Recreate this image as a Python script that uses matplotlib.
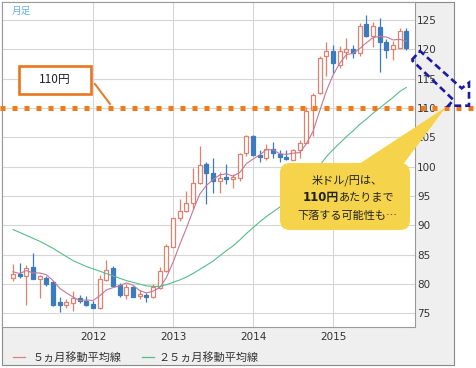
import matplotlib
matplotlib.use('Agg')
import matplotlib.pyplot as plt
import matplotlib.transforms as mtransforms
from matplotlib.patches import Rectangle, FancyBboxPatch, Polygon
import numpy as np

# ---------------- data (USD/JPY monthly, Jan 2011 - Dec 2015) ----------------
months = [f"{y}-{m:02d}" for y in range(2011, 2016) for m in range(1, 13)]

opens = [81.0, 81.8, 81.4, 82.9, 80.8, 81.0, 80.3, 76.9, 76.4, 76.7, 77.6, 77.1,
         76.6, 75.9, 80.7, 82.8, 79.8, 78.1, 79.5, 78.0, 78.2, 77.8, 79.4, 82.3,
         86.4, 91.2, 92.4, 93.9, 97.2, 100.4, 99.0, 97.6, 98.3, 97.9, 98.1, 102.3,
         105.2, 102.0, 101.4, 103.1, 102.2, 101.7, 101.2, 102.8, 104.1, 109.6, 112.5, 118.8,
         119.7, 117.3, 119.5, 120.1, 119.4, 124.3, 122.2, 123.8, 121.2, 120.0, 120.3, 123.1]
highs = [83.4, 83.6, 83.2, 85.3, 81.6, 81.4, 80.5, 77.8, 77.5, 78.8, 78.2, 78.0,
         77.2, 81.5, 84.1, 83.0, 80.2, 80.0, 79.6, 79.0, 78.5, 80.1, 82.9, 86.9,
         91.3, 94.5, 95.8, 99.8, 103.6, 100.8, 101.5, 99.1, 100.5, 98.8, 102.3, 105.4,
         105.4, 102.8, 103.8, 104.2, 102.8, 102.8, 103.1, 104.5, 110.1, 112.5, 118.9, 121.3,
         120.8, 120.5, 121.9, 120.8, 124.4, 125.8, 124.6, 125.3, 121.7, 121.5, 123.7, 123.6]
lows = [80.6, 81.0, 76.4, 80.9, 77.7, 79.6, 76.3, 75.3, 75.9, 75.4, 76.8, 76.2,
        75.9, 75.8, 80.6, 79.6, 77.8, 77.5, 77.9, 77.5, 76.9, 77.7, 79.2, 82.0,
        86.3, 90.8, 92.3, 92.8, 97.0, 93.6, 95.5, 95.5, 97.0, 96.4, 97.6, 101.8,
        101.8, 100.8, 101.1, 101.4, 100.8, 101.1, 101.1, 101.5, 104.0, 105.2, 112.4, 115.4,
        115.9, 116.9, 118.3, 118.5, 118.9, 122.1, 120.4, 116.2, 118.6, 118.1, 120.2, 119.8]
closes = [81.8, 81.4, 82.7, 80.9, 81.3, 80.1, 76.4, 76.4, 76.9, 77.6, 77.1, 76.5,
          75.9, 80.9, 82.4, 79.6, 78.1, 79.5, 77.8, 78.3, 77.8, 79.5, 82.3, 86.5,
          91.2, 92.4, 93.9, 97.2, 100.3, 99.0, 97.6, 98.1, 97.9, 98.2, 102.2, 105.2,
          102.0, 101.6, 103.1, 102.3, 101.7, 101.3, 102.8, 104.1, 109.5, 112.3, 118.5, 119.7,
          117.7, 119.7, 120.1, 119.4, 124.0, 122.2, 124.0, 121.2, 119.8, 120.7, 123.1, 120.2]

ma5 = [82.1, 81.8, 82.3, 81.9, 81.9, 81.6, 80.6, 79.3, 78.5, 77.8, 77.2, 77.3,
       77.2, 78.0, 79.0, 79.4, 79.7, 80.2, 79.8, 78.9, 78.5, 78.8, 79.4, 81.1,
       83.7, 86.7, 89.5, 92.5, 95.3, 96.8, 97.8, 98.6, 98.8, 98.4, 99.0, 100.5,
       101.3, 102.0, 102.9, 102.9, 102.2, 102.1, 102.3, 102.4, 103.9, 106.0, 109.5, 112.9,
       115.6, 117.6, 119.1, 119.3, 120.1, 121.1, 122.0, 122.2, 122.1, 121.6, 121.7, 121.4]
ma25 = [89.3, 88.8, 88.3, 87.8, 87.3, 86.7, 86.1, 85.4, 84.7, 84.0, 83.5, 83.0,
        82.6, 82.2, 81.8, 81.4, 81.0, 80.6, 80.3, 80.0, 79.7, 79.6, 79.6, 79.9,
        80.3, 80.7, 81.2, 81.8, 82.5, 83.2, 83.9, 84.8, 85.7, 86.5, 87.5, 88.6,
        89.6, 90.6, 91.5, 92.3, 93.1, 94.1, 95.0, 96.0, 97.3, 98.6, 100.2, 101.7,
        102.9, 104.0, 105.1, 106.1, 107.2, 108.1, 109.1, 110.0, 110.9, 111.8, 112.8, 113.5]

year_labels = ['2012', '2013', '2014', '2015']
y_ticks = [75, 80, 85, 90, 95, 100, 105, 110, 115, 120, 125]
target_level = 110

# ---------------- figure ----------------
W, H = 476, 368
fig = plt.figure(figsize=(W / 100, H / 100), dpi=100)
fig.patch.set_facecolor('white')
JP = ['Noto Sans CJK JP', 'DejaVu Sans']

# outer frame (grey panel)
fig.patches.append(Rectangle((2 / W, (H - 365) / H), 452 / W, 363 / H,
                             transform=fig.transFigure, facecolor='#efefef',
                             edgecolor='#8a8a8a', lw=0.8, zorder=-5))

ax = fig.add_axes([2 / W, (H - 327) / H, 413 / W, 325 / H], zorder=1)
ax.set_facecolor('white')
for s in ax.spines.values():
    s.set_color('#9a9a9a')
    s.set_linewidth(0.8)

x = np.arange(len(months))
ax.set_xlim(-1.65, 60.3)
ax.set_ylim(72.69, 128.06)

ax.set_yticks(y_ticks)
ax.set_yticklabels([str(v) for v in y_ticks])
xt = [months.index(f"{y}-01") for y in year_labels]
ax.set_xticks(xt)
ax.set_xticklabels(year_labels)
ax.yaxis.tick_right()
ax.tick_params(axis='y', length=0, pad=1.5, labelsize=7.5, labelcolor='#333333')
ax.tick_params(axis='x', length=0, pad=3.5, labelsize=7.5, labelcolor='#333333')
ax.grid(True, color='#d6d6d6', lw=0.8, zorder=0)
ax.set_axisbelow(True)

UP = '#e2806c'
DN = '#3a7cbd'
o = np.array(opens); c = np.array(closes); hi = np.array(highs); lo = np.array(lows)
up = c >= o
wick_col = [UP if u else DN for u in up]
ax.vlines(x, lo, hi, colors=wick_col, lw=0.9, zorder=2)
bottoms = np.minimum(o, c)
heights = np.maximum(np.abs(c - o), 0.15)
ax.bar(x[up], heights[up], bottom=bottoms[up], width=0.62, facecolor='white',
       edgecolor=UP, lw=0.9, zorder=3)
ax.bar(x[~up], heights[~up], bottom=bottoms[~up], width=0.62, facecolor=DN,
       edgecolor=DN, lw=0.9, zorder=3)

ax.plot(x, ma5, color='#c57799', lw=0.8, zorder=4)
ax.plot(x, ma25, color='#55bd8a', lw=0.8, zorder=4)

# orange dotted 110 line across full width
trans = mtransforms.blended_transform_factory(fig.transFigure, ax.transData)
ax.plot([0, 1], [target_level, target_level], transform=trans, clip_on=False,
        color='#f07a1a', lw=3.6, dashes=(1.0, 1.4), solid_capstyle='butt',
        dash_capstyle='butt', zorder=6)

# ---------------- overlay annotations (pixel coords) ----------------
ov = fig.add_axes([0, 0, 1, 1], zorder=10)
ov.set_xlim(0, W)
ov.set_ylim(H, 0)
ov.axis('off')
ov.patch.set_alpha(0)

ov.text(12, 11, '月足', fontsize=7, color='#62b3e3', va='center', ha='left', family=JP)

# 110円 box
ov.add_patch(Rectangle((18.5, 65.5), 72, 28.5, facecolor='white', edgecolor='#e8761e', lw=1.9))
ov.text(54.5, 80, '110円', fontsize=8.5, color='#222222', ha='center', va='center', family=JP)
ov.plot([95, 110], [84, 104], color='#e8761e', lw=1.4)

# blue dashed arrow
arrow_pts = [(411.7, 60), (420, 51), (461.7, 88.3), (469, 82.7), (469, 105.7),
             (448.3, 105.7), (453.5, 100)]
ov.add_patch(Polygon(arrow_pts, closed=True, fill=False, edgecolor='#1a1aa6',
                     lw=1.9, linestyle=(0, (2.6, 1.5)), joinstyle='miter'))

# speech bubble
BY = '#f5d34a'
ov.add_patch(Polygon([(356, 166), (402, 166), (446, 107)], closed=True,
                     facecolor=BY, edgecolor='none'))
ov.add_patch(FancyBboxPatch((280, 163), 130, 67, boxstyle='round,pad=0,rounding_size=10',
                            facecolor=BY, edgecolor='none'))
ov.text(347, 180, '米ドル/円は、', fontsize=8, color='#222222', ha='center', va='center', family=JP)
t1 = ov.text(339, 198, '110円', fontsize=8.5, color='#222222', ha='right', va='center',
             family=['DejaVu Sans', 'Noto Sans CJK JP'], fontweight='bold')
ov.annotate('あたりまで', xy=(1, 0.5), xycoords=t1, fontsize=8, color='#222222',
            ha='left', va='center', family=JP)
ov.text(347, 216, '下落する可能性も…', fontsize=8, color='#222222', ha='center', va='center', family=JP)

# legend
ov.plot([13, 25], [357, 357], color='#d98585', lw=0.9)
ov.text(33, 357, '５ヵ月移動平均線', fontsize=8, color='#333333', va='center', ha='left', family=JP)
ov.plot([142, 154], [357, 357], color='#55bd8a', lw=0.9)
ov.text(158, 357, '２５ヵ月移動平均線', fontsize=8, color='#333333', va='center', ha='left', family=JP)

fig.savefig('out.png', dpi=100)
